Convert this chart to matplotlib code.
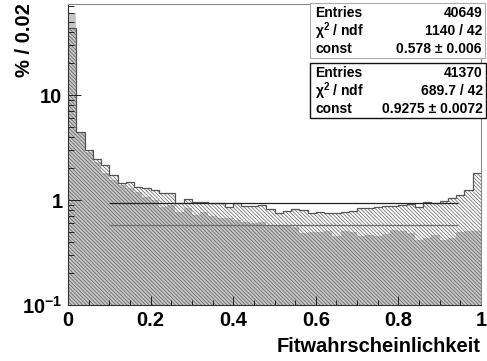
import numpy as np
import matplotlib
matplotlib.use('Agg')
import matplotlib.pyplot as plt
from matplotlib.patches import Rectangle
from matplotlib.ticker import FixedLocator, LogLocator, NullFormatter, MultipleLocator

plt.rcParams['font.family'] = ['Liberation Sans', 'DejaVu Sans']
plt.rcParams['font.weight'] = 'bold'
plt.rcParams['mathtext.fontset'] = 'custom'
plt.rcParams['mathtext.rm'] = 'Liberation Sans:bold'
plt.rcParams['mathtext.it'] = 'Liberation Sans:bold'
plt.rcParams['mathtext.bf'] = 'Liberation Sans:bold'
plt.rcParams['hatch.linewidth'] = 0.5

# data, % per 0.02 bin of fit probability
bin_width = 0.02
edges = np.arange(51) * bin_width

hist_gray = [60, 4.3, 2.88, 2.31, 1.8, 1.55, 1.39, 1.29, 1.2, 1.075,
             1.0, 0.86, 0.896, 0.774, 0.834, 0.72, 0.774, 0.70, 0.67, 0.67,
             0.645, 0.62, 0.60, 0.62, 0.578, 0.578, 0.565, 0.557, 0.488, 0.50,
             0.50, 0.51, 0.454, 0.51, 0.50, 0.454, 0.464, 0.457, 0.475, 0.518,
             0.51, 0.48, 0.42, 0.43, 0.464, 0.415, 0.43, 0.50, 0.51, 0.51]

hist_hatch = [43.5, 4.47, 3.0, 2.44, 2.15, 1.73, 1.46, 1.47, 1.34, 1.29,
              1.245, 1.17, 1.17, 0.93, 1.03, 0.957, 0.957, 0.93, 0.93, 0.86,
              0.93, 0.88, 0.88, 0.896, 0.815, 0.757, 0.79, 0.815, 0.80, 0.757,
              0.77, 0.76, 0.757, 0.77, 0.786, 0.834, 0.845, 0.858, 0.877, 0.88,
              0.896, 0.91, 0.86, 0.957, 0.93, 0.98, 1.04, 1.12, 1.245, 1.80]

fit_gray = 0.578
fit_hatch = 0.9275
fit_range = (0.1, 0.945)

stats_gray = [('Entries', '40649'), ('\u03c7$^{2}$ / ndf', '1140 / 42'), ('const', '0.578 \u00b1 0.006')]
stats_hatch = [('Entries', '41370'), ('\u03c7$^{2}$ / ndf', '689.7 / 42'), ('const', '0.9275 \u00b1 0.0072')]

W, H = 487, 361
fig = plt.figure(figsize=(W / 100, H / 100), dpi=100)
ax = fig.add_axes([68 / W, 1 - 305 / H, (481 - 68) / W, (305 - 4) / H])

ax.stairs(hist_gray, edges, fill=True, color='#c6c6c6', baseline=1e-3, lw=0)
ax.stairs(hist_hatch, edges, fill=True, facecolor='none', edgecolor='#5e5e5e',
          hatch='\\' * 9, baseline=1e-3, lw=0)
ax.stairs(hist_hatch, edges, fill=False, color='#555555', baseline=None, lw=0.9)

ax.hlines(fit_hatch, *fit_range, color='#222222', lw=0.9)
ax.hlines(fit_gray, *fit_range, color='#6e6e6e', lw=0.9)

ax.set_yscale('log')
ax.set_xlim(0, 1)
ax.set_ylim(0.1, 73.6)

ax.xaxis.set_major_locator(MultipleLocator(0.2))
ax.xaxis.set_minor_locator(MultipleLocator(0.05))
ax.yaxis.set_major_locator(FixedLocator([0.1, 1, 10]))
ax.yaxis.set_minor_locator(LogLocator(base=10, subs=np.arange(2, 10)))
ax.yaxis.set_minor_formatter(NullFormatter())
ax.set_yticklabels(['10$^{-1}$', '1', '10'])
ax.set_xticks([0, 0.2, 0.4, 0.6, 0.8, 1.0])
ax.set_xticklabels(['0', '0.2', '0.4', '0.6', '0.8', '1'])

ax.tick_params(axis='x', which='major', direction='in', length=6.5, width=0.7, pad=4,
               labelsize=14.5, colors='#222222', labelcolor='black')
ax.tick_params(axis='x', which='minor', direction='in', length=3.3, width=0.7, colors='#222222')
ax.tick_params(axis='y', which='major', direction='in', length=9, width=0.7, pad=4,
               labelsize=14.5, colors='#222222', labelcolor='black')
ax.tick_params(axis='y', which='minor', direction='in', length=4.5, width=0.7, colors='#222222')
for lab in ax.get_xticklabels() + ax.get_yticklabels():
    lab.set_fontweight('bold')

ax.spines['left'].set_color('#333333')
ax.spines['bottom'].set_color('#333333')
ax.spines['top'].set_color('#8a8a8a')
ax.spines['right'].set_color('#8a8a8a')
for s in ax.spines.values():
    s.set_linewidth(0.8)

fig.text(481 / W, 1 - 346 / H, 'Fitwahrscheinlichkeit', ha='right', va='center',
         fontsize=14.5, fontweight='bold')
fig.text(24 / W, 1 - 3 / H, '% / 0.02', ha='center', va='top', rotation=90,
         fontsize=14.5, fontweight='bold')


def stat_box(x0, y0, x1, y1, rows, edge, lw):
    fig.patches.append(Rectangle((x0 / W, 1 - y1 / H), (x1 - x0) / W, (y1 - y0) / H,
                                 transform=fig.transFigure, facecolor='white',
                                 edgecolor=edge, lw=lw, zorder=5))
    row_h = (y1 - y0) / 3
    for i, (name, val) in enumerate(rows):
        yc = y0 + row_h * (i + 0.5) + 0.5
        fig.text((x0 + 5) / W, 1 - yc / H, name, ha='left', va='center',
                 fontsize=10, fontweight='bold', zorder=6)
        fig.text((x1 - 3) / W, 1 - yc / H, val, ha='right', va='center',
                 fontsize=10, fontweight='bold', zorder=6)


stat_box(310, 3, 485, 58, stats_gray, '#aaaaaa', 0.8)
stat_box(310, 63, 486, 118, stats_hatch, '#111111', 1.0)

fig.savefig('out.png', dpi=100)
